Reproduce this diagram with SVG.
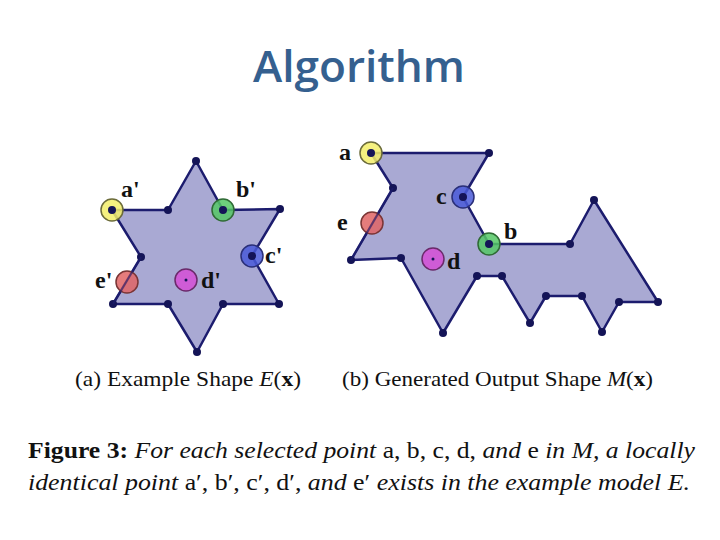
<svg xmlns="http://www.w3.org/2000/svg" width="720" height="540" viewBox="0 0 720 540">
<style>
.shape{fill:#a9a9d3;stroke:#1c1c6e;stroke-width:2.5;stroke-linejoin:round}
.v{fill:#141457}
.mk{stroke-width:1.5;fill-opacity:0.85}
.lbl{font-family:"Liberation Serif",serif;font-weight:bold;font-size:24px;fill:#111}
.cap{font-family:"Liberation Serif",serif;font-size:21px;fill:#111}
.fig{font-family:"Liberation Serif",serif;font-size:23px;fill:#111}
</style>
<rect width="720" height="540" fill="#fff"/>
<text x="359" y="82" text-anchor="middle" font-family="Open Sans, sans-serif" font-weight="600" font-size="44" fill="#35608f" textLength="212" lengthAdjust="spacingAndGlyphs">Algorithm</text>

<g id="example-shape">
<polygon class="shape" points="196,161 223,210 280,209 252,256 279,304 223,304 197,352 168,304 113,304 141,257 112,210 168,210"/>
<g class="v">
<circle cx="196" cy="161" r="4"/><circle cx="280" cy="209" r="4"/><circle cx="279" cy="304" r="4"/><circle cx="223" cy="304" r="4"/><circle cx="197" cy="352" r="4"/><circle cx="168" cy="304" r="4"/><circle cx="113" cy="304" r="4"/><circle cx="141" cy="257" r="4"/><circle cx="168" cy="210" r="4"/>
</g>
</g>

<g id="output-shape">
<polygon class="shape" points="371,153 489,153 463,197 489,244 570,244 594,200 658,302 619,302 602,332 582,296 546,296 530,323 502,276 477,276 443,333 401,258 351,260 393,188"/>
<g class="v">
<circle cx="489" cy="153" r="4"/><circle cx="570" cy="244" r="4"/><circle cx="594" cy="200" r="4"/><circle cx="658" cy="302" r="4"/><circle cx="619" cy="302" r="4"/><circle cx="602" cy="332" r="4"/><circle cx="582" cy="296" r="4"/><circle cx="546" cy="296" r="4"/><circle cx="530" cy="323" r="4"/><circle cx="502" cy="276" r="4"/><circle cx="477" cy="276" r="4"/><circle cx="443" cy="333" r="4"/><circle cx="401" cy="258" r="4"/><circle cx="351" cy="260" r="4"/><circle cx="393" cy="188" r="4"/>
</g>
</g>

<g id="point-a-prime">
<circle class="mk" cx="112" cy="210" r="11" fill="#f3ee6a" stroke="#6b6b3a"/>
<circle class="v" cx="112" cy="210" r="4"/>
<text class="lbl" x="121" y="197">a'</text>
</g>
<g id="point-b-prime">
<circle class="mk" cx="223" cy="210" r="11" fill="#55c865" stroke="#2f6a35"/>
<circle class="v" cx="223" cy="210" r="4"/>
<text class="lbl" x="236" y="197">b'</text>
</g>
<g id="point-c-prime">
<circle class="mk" cx="252" cy="256" r="11" fill="#4a5ad8" stroke="#2a2f78"/>
<circle class="v" cx="252" cy="256" r="4"/>
<text class="lbl" x="265" y="263">c'</text>
</g>
<g id="point-d-prime">
<circle class="mk" cx="186" cy="280" r="11" fill="#d64fd6" stroke="#6a2a6a"/>
<circle class="v" cx="186" cy="280" r="1.5"/>
<text class="lbl" x="201" y="288">d'</text>
</g>
<g id="point-e-prime">
<circle class="mk" cx="127" cy="282" r="11" fill="#e06565" stroke="#7a3535"/>
<line x1="141" y1="257" x2="113" y2="304" stroke="#1c1c6e" stroke-width="2" stroke-opacity="0.6"/>
<text class="lbl" x="95" y="288">e'</text>
</g>

<g id="point-a">
<circle class="mk" cx="371" cy="153" r="11" fill="#f3ee6a" stroke="#6b6b3a"/>
<circle class="v" cx="371" cy="153" r="4"/>
<text class="lbl" x="339" y="160">a</text>
</g>
<g id="point-c">
<circle class="mk" cx="463" cy="197" r="11" fill="#4a5ad8" stroke="#2a2f78"/>
<circle class="v" cx="463" cy="197" r="4"/>
<text class="lbl" x="436" y="204">c</text>
</g>
<g id="point-b">
<circle class="mk" cx="489" cy="244" r="11" fill="#55c865" stroke="#2f6a35"/>
<circle class="v" cx="489" cy="244" r="4"/>
<text class="lbl" x="504" y="239">b</text>
</g>
<g id="point-d">
<circle class="mk" cx="433" cy="259" r="11" fill="#d64fd6" stroke="#6a2a6a"/>
<circle class="v" cx="433" cy="259" r="1.5"/>
<text class="lbl" x="447" y="269">d</text>
</g>
<g id="point-e">
<circle class="mk" cx="372" cy="223" r="11" fill="#e06565" stroke="#7a3535"/>
<line x1="393" y1="188" x2="351" y2="260" stroke="#1c1c6e" stroke-width="2" stroke-opacity="0.6"/>
<text class="lbl" x="337" y="230">e</text>
</g>

<text class="cap" x="75" y="386" textLength="226" lengthAdjust="spacingAndGlyphs">(a)  Example Shape <tspan font-style="italic">E</tspan>(<tspan font-weight="bold">x</tspan>)</text>
<text class="cap" x="342" y="386" textLength="311" lengthAdjust="spacingAndGlyphs">(b)  Generated Output Shape <tspan font-style="italic">M</tspan>(<tspan font-weight="bold">x</tspan>)</text>

<text class="fig" x="28" y="458" textLength="667" lengthAdjust="spacingAndGlyphs"><tspan font-weight="bold">Figure 3:</tspan> <tspan font-style="italic">For each selected point</tspan> a, b, c, d, <tspan font-style="italic">and</tspan> e <tspan font-style="italic">in M, a locally</tspan></text>
<text class="fig" x="28" y="490" textLength="662" lengthAdjust="spacingAndGlyphs"><tspan font-style="italic">identical point</tspan> a′, b′, c′, d′, <tspan font-style="italic">and</tspan> e′ <tspan font-style="italic">exists in the example model E.</tspan></text>
</svg>
